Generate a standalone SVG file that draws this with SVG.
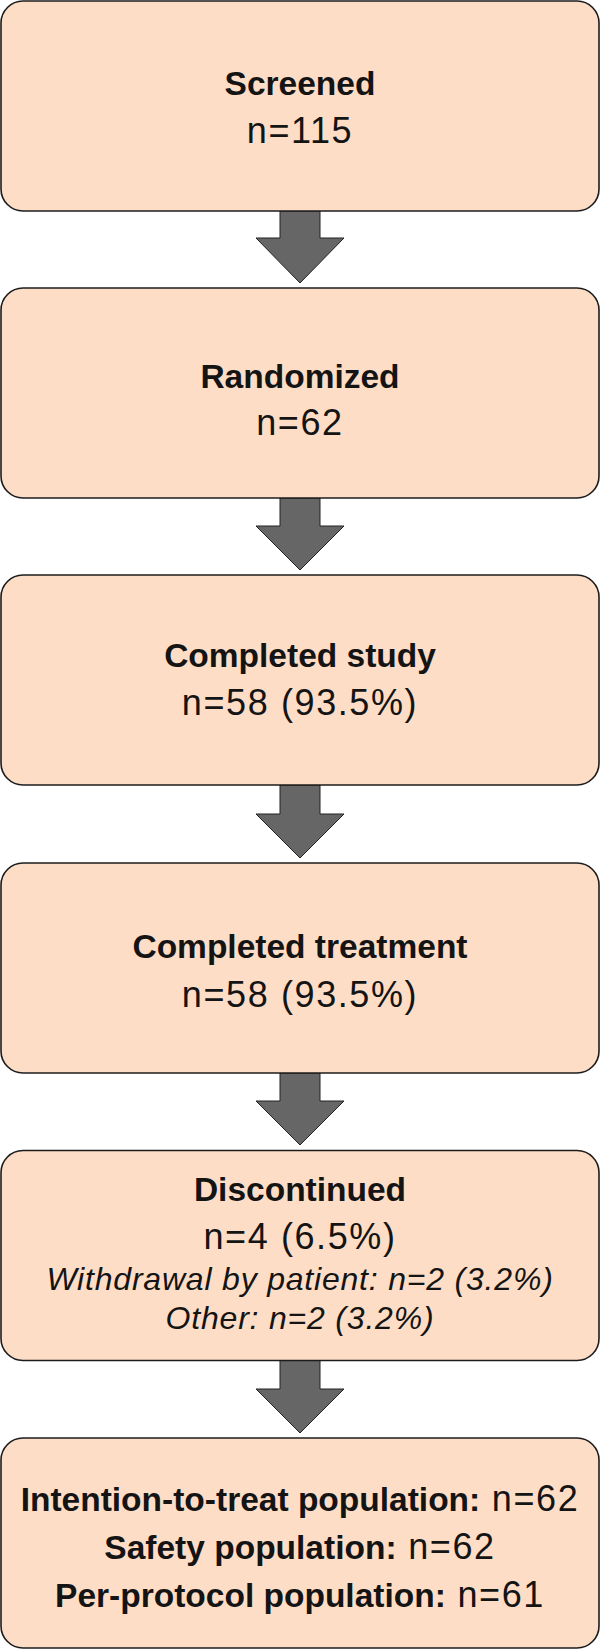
<svg xmlns="http://www.w3.org/2000/svg" width="600" height="1649" viewBox="0 0 600 1649">
<style>
.box{fill:#FEDDC6;stroke:#1c1c1c;stroke-width:1.6}
.arr{fill:#666666;stroke:#222222;stroke-width:1}
text{font-family:"Liberation Sans",Arial,Helvetica,sans-serif;fill:#141414;text-anchor:middle}
.b{font-weight:bold;font-size:33.5px}
.r{font-size:36px;letter-spacing:1.6px}
.i{font-style:italic;font-size:32px;letter-spacing:0.8px}
.rs{font-size:36px;font-weight:normal;letter-spacing:1.6px}
</style>
<g id="connectors">
<polygon class="arr" points="280,211 320,211 320,238 344,238 300,283 256,238 280,238"/>
<polygon class="arr" points="280,498 320,498 320,526 344,526 300,570 256,526 280,526"/>
<polygon class="arr" points="280,785 320,785 320,814 344,814 300,858 256,814 280,814"/>
<polygon class="arr" points="280,1073 320,1073 320,1101 344,1101 300,1145 256,1101 280,1101"/>
<polygon class="arr" points="280,1360 320,1360 320,1389 344,1389 300,1433 256,1389 280,1389"/>
</g>
<g id="screened">
<rect class="box" x="1" y="1" width="598" height="210" rx="22"/>
<text class="b" x="300" y="95">Screened</text>
<text class="r" x="300" y="143">n=115</text>
</g>
<g id="randomized">
<rect class="box" x="1" y="288" width="598" height="210" rx="22"/>
<text class="b" x="300" y="388">Randomized</text>
<text class="r" x="300" y="435">n=62</text>
</g>
<g id="completed-study">
<rect class="box" x="1" y="575" width="598" height="210" rx="22"/>
<text class="b" x="300" y="667">Completed study</text>
<text class="r" x="300" y="715">n=58 (93.5%)</text>
</g>
<g id="completed-treatment">
<rect class="box" x="1" y="863" width="598" height="210" rx="22"/>
<text class="b" x="300" y="958">Completed treatment</text>
<text class="r" x="300" y="1006.5">n=58 (93.5%)</text>
</g>
<g id="discontinued">
<rect class="box" x="1" y="1150.5" width="598" height="210" rx="22"/>
<text class="b" x="300" y="1201">Discontinued</text>
<text class="r" x="300" y="1249">n=4 (6.5%)</text>
<text class="i" x="300" y="1290">Withdrawal by patient: n=2 (3.2%)</text>
<text class="i" x="300" y="1329">Other: n=2 (3.2%)</text>
</g>
<g id="populations">
<rect class="box" x="1" y="1438" width="598" height="210" rx="22"/>
<text class="b" x="300" y="1510.5">Intention-to-treat population:<tspan class="rs"> n=62</tspan></text>
<text class="b" x="300" y="1559">Safety population:<tspan class="rs"> n=62</tspan></text>
<text class="b" x="300" y="1606.5">Per-protocol population:<tspan class="rs"> n=61</tspan></text>
</g>
</svg>
